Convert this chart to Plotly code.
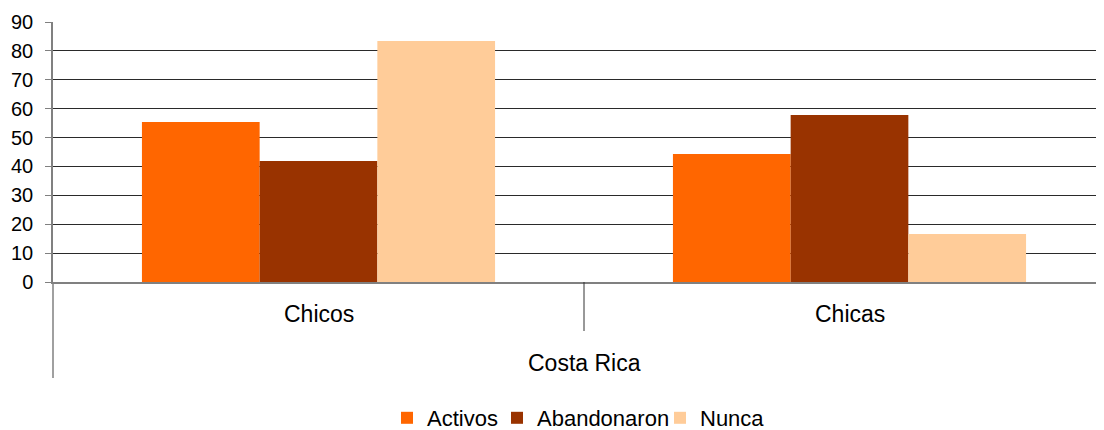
import plotly.graph_objects as go

categories = ["Chicos", "Chicas"]
group_label = "Costa Rica"
series_names = ["Activos", "Abandonaron", "Nunca"]
activos = [55.4, 44.3]
abandonaron = [41.9, 57.8]
nunca = [83.4, 16.6]
colors = ["#FF6600", "#993300", "#FFCC99"]
y_ticks = list(range(0, 91, 10))

FONT = "Liberation Sans, Arial, sans-serif"

# page body has an 8px default margin; compensate so the plot lands where the reference has it
OFF = 8
W, H = 1104, 430
ml, mt = 53 - OFF, 22 - OFF
plot_bottom = 282 - OFF
mb = H - plot_bottom
mr = OFF
plot_w = W - ml - mr
plot_h = H - mt - mb
cat_px = 531.0
xr_end = -0.5 + plot_w / cat_px

def py(px_below):
    return -px_below / plot_h

def px_frac(x_window):
    return (x_window - 53) / plot_w

legend_ids = ["legend", "legend2", "legend3"]
legend_text_x = [427, 537, 700]

fig = go.Figure()
for name, vals, col, lg in zip(series_names, [activos, abandonaron, nunca], colors, legend_ids):
    fig.add_trace(go.Bar(x=categories, y=vals, name=name, legend=lg,
                         marker=dict(color=col, line=dict(width=0))))

legend_common = dict(orientation="h", xanchor="left", y=py(418 - 282), yanchor="middle",
                     font=dict(size=22, family=FONT), itemwidth=30,
                     bgcolor="rgba(0,0,0,0)", borderwidth=0)
legends = {}
for lg, tx in zip(legend_ids, legend_text_x):
    legends[lg] = dict(legend_common, x=px_frac(tx - 40))

fig.update_layout(
    width=W, height=H,
    margin=dict(l=ml, r=mr, t=mt, b=mb, pad=0, autoexpand=False),
    paper_bgcolor="white", plot_bgcolor="white",
    font=dict(family=FONT, size=21, color="black"),
    barmode="group", bargap=0.335, bargroupgap=0,
    showlegend=True,
    xaxis=dict(type="category", categoryorder="array", categoryarray=categories,
               range=[-0.5, xr_end], showticklabels=False, showgrid=False, automargin=False,
               showline=True, linecolor="#808080", linewidth=1.5, zeroline=False, ticks=""),
    yaxis=dict(range=[0, 90], tickvals=y_ticks, showgrid=True, gridcolor="#2a2a2a", gridwidth=1,
               showline=True, linecolor="#808080", linewidth=1.5, ticks="outside", ticklen=6,
               tickcolor="#808080", zeroline=False, tickfont=dict(size=20, family=FONT),
               ticklabelstandoff=8, automargin=False),
    **legends,
)

for i, c in enumerate(categories):
    fig.add_annotation(x=i, y=py(314 - 282), xref="x", yref="paper", text=c, showarrow=False,
                       font=dict(size=23, family=FONT), yanchor="middle")
fig.add_annotation(x=0.5, y=py(363 - 282), xref="x", yref="paper", text=group_label, showarrow=False,
                   font=dict(size=23, family=FONT), yanchor="middle")

fig.add_shape(type="line", xref="paper", yref="paper", x0=0, x1=0, y0=0, y1=py(378 - 282),
              line=dict(color="#808080", width=1.5))
fig.add_shape(type="line", xref="x", yref="paper", x0=0.5, x1=0.5, y0=0, y1=py(331 - 282),
              line=dict(color="#333333", width=1))

fig.write_html("out.html")
